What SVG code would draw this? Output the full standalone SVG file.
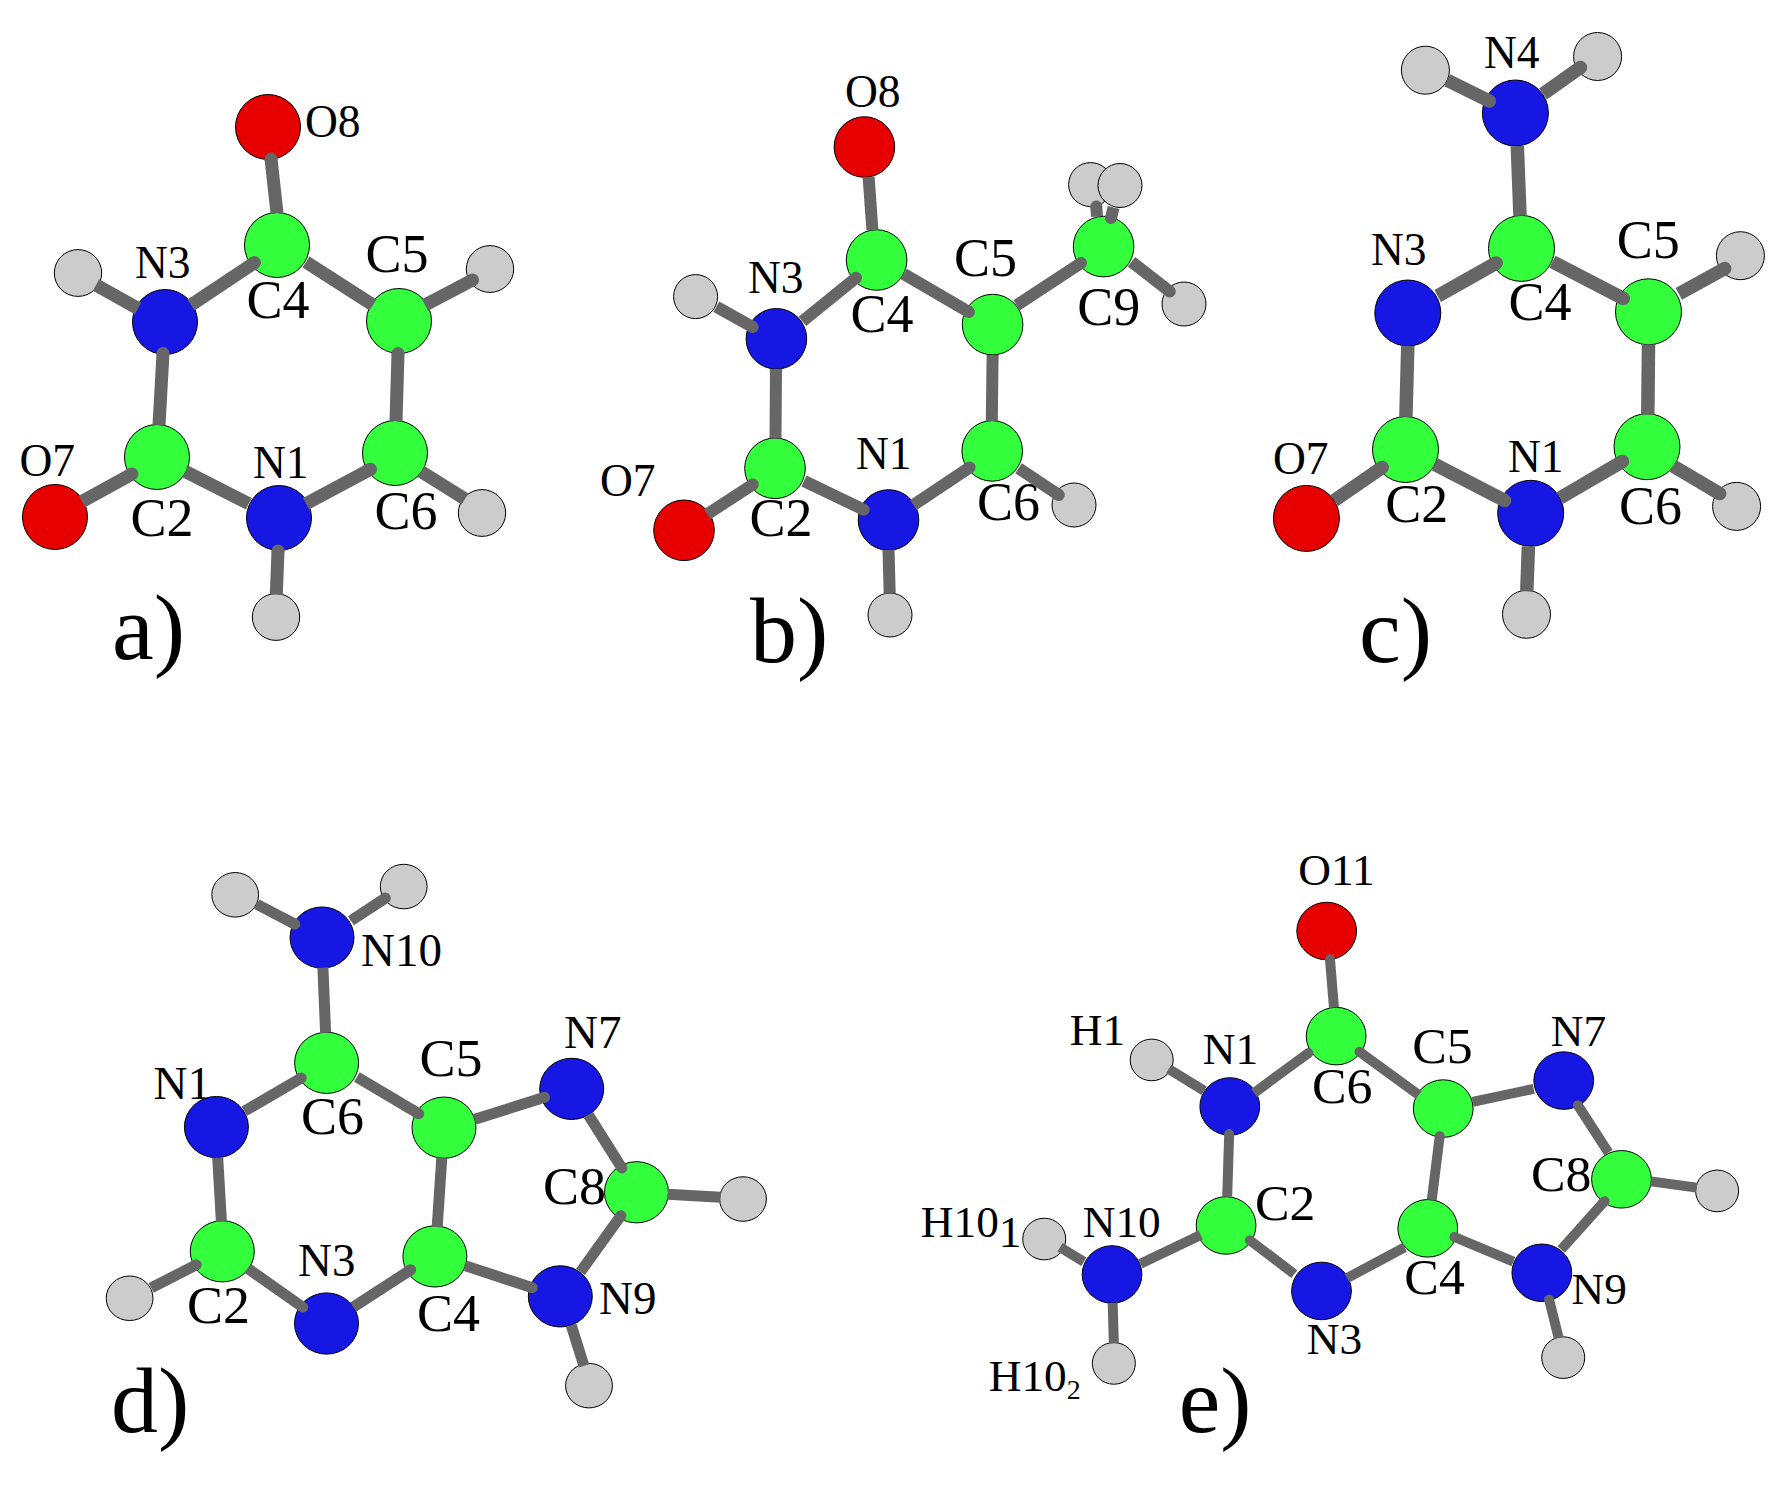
<svg xmlns="http://www.w3.org/2000/svg" width="1787" height="1486" viewBox="0 0 1787 1486">
<style>
text{font-family:"Liberation Serif","Times New Roman",serif;fill:#000}
.s{font-size:45.5px}.m{font-size:47px}.l{font-size:54px;transform:translateX(-1.5px)}.k{font-size:52px;transform:translateX(-1px)}.p{font-size:94px;transform:translate(-3px,-2px)}
ellipse{stroke:#000;stroke-width:1}
.g{fill:#33ff3d}.b{fill:#1717e3}.r{fill:#e60000}.h{fill:#ccc}
#connectors line{stroke:#666;fill:none}
.c{marker-start:url(#cap)}
</style>
<defs><marker id="cap" viewBox="-1 -1 2 2" markerWidth="2" markerHeight="2" orient="auto"><circle r=".5" fill="#666"/></marker></defs>
<rect width="1787" height="1486" fill="#fff"/>

<g id="mol-a">
<g id="a-H1"><ellipse class="h" cx="78" cy="273" rx="23.7" ry="23.4"/></g>
<g id="a-H2"><ellipse class="h" cx="490" cy="269" rx="23.7" ry="23.4"/></g>
<g id="a-H3"><ellipse class="h" cx="482" cy="513" rx="23.7" ry="23.4"/></g>
<g id="a-H4"><ellipse class="h" cx="276" cy="617" rx="23.7" ry="23.4"/></g>
<g id="a-O8"><ellipse class="r" cx="268" cy="127" rx="32.5" ry="32.5"/><text class="s" x="305" y="136.5">O8</text></g>
<g id="a-C4"><ellipse class="g" cx="277" cy="245" rx="32.5" ry="32.5"/><text class="l" x="248" y="317.5">C4</text></g>
<g id="a-C5"><ellipse class="g" cx="399" cy="321" rx="32.5" ry="32.5"/><text class="l" x="367" y="271.5">C5</text></g>
<g id="a-N3"><ellipse class="b" cx="165" cy="322" rx="32.5" ry="32.5"/><text class="s" x="135" y="277.5">N3</text></g>
<g id="a-C2"><ellipse class="g" cx="157" cy="457" rx="32.5" ry="32.5"/><text class="l" x="132" y="536">C2</text></g>
<g id="a-N1"><ellipse class="b" cx="279" cy="518" rx="32.5" ry="32.5"/><text class="s" x="253" y="477.5">N1</text></g>
<g id="a-C6"><ellipse class="g" cx="395" cy="453" rx="32.5" ry="32.5"/><text class="l" x="376" y="529">C6</text></g>
<g id="a-O7"><ellipse class="r" cx="55" cy="517" rx="32.5" ry="32.5"/><text class="s" x="19.5" y="475.5">O7</text></g>
<text id="a-label" class="p" x="115" y="661">a)</text>
</g>

<g id="mol-b">
<g id="b-H1"><ellipse class="h" cx="695.6" cy="296.6" rx="22" ry="22"/></g>
<g id="b-H2"><ellipse class="h" cx="890" cy="615" rx="22" ry="22"/></g>
<g id="b-H3"><ellipse class="h" cx="1074" cy="505" rx="22" ry="22"/></g>
<g id="b-H4"><ellipse class="h" cx="1090.6" cy="184.6" rx="22" ry="22"/></g>
<g id="b-H5"><ellipse class="h" cx="1120" cy="185.5" rx="22" ry="22"/></g>
<g id="b-H6"><ellipse class="h" cx="1184" cy="304" rx="22" ry="22"/></g>
<g id="b-O8"><ellipse class="r" cx="864.4" cy="147" rx="30.3" ry="30.3"/><text class="s" x="845" y="106.5">O8</text></g>
<g id="b-C4"><ellipse class="g" cx="876.6" cy="260" rx="30.3" ry="30.3"/><text class="l" x="852" y="332">C4</text></g>
<g id="b-C5"><ellipse class="g" cx="992.6" cy="324.6" rx="30.3" ry="30.3"/><text class="l" x="955.5" y="276">C5</text></g>
<g id="b-N3"><ellipse class="b" cx="776.4" cy="338.8" rx="30.3" ry="30.3"/><text class="s" x="748" y="293">N3</text></g>
<g id="b-C2"><ellipse class="g" cx="775" cy="468.3" rx="30.3" ry="30.3"/><text class="l" x="751" y="535.5">C2</text></g>
<g id="b-N1"><ellipse class="b" cx="888.5" cy="520" rx="30.3" ry="30.3"/><text class="s" x="856" y="469">N1</text></g>
<g id="b-C6"><ellipse class="g" cx="992.2" cy="450.9" rx="30.3" ry="30.3"/><text class="l" x="978.4" y="519.5">C6</text></g>
<g id="b-O7"><ellipse class="r" cx="684" cy="530.3" rx="30.3" ry="30.3"/><text class="s" x="600" y="496">O7</text></g>
<g id="b-C9"><ellipse class="g" cx="1103.6" cy="246.6" rx="30.3" ry="30.3"/><text class="l" x="1078.7" y="324.5">C9</text></g>
<text id="b-label" class="p" x="753" y="663.5">b)</text>
</g>

<g id="mol-c">
<g id="c-H1"><ellipse class="h" cx="1425.4" cy="70.2" rx="24" ry="24"/></g>
<g id="c-H2"><ellipse class="h" cx="1597.6" cy="56.5" rx="24" ry="24"/></g>
<g id="c-H3"><ellipse class="h" cx="1740.4" cy="255.7" rx="24" ry="24"/></g>
<g id="c-H4"><ellipse class="h" cx="1736.6" cy="506.4" rx="24" ry="24"/></g>
<g id="c-H5"><ellipse class="h" cx="1526.5" cy="614.3" rx="24" ry="24"/></g>
<g id="c-N4"><ellipse class="b" cx="1515.4" cy="113" rx="33" ry="33"/><text class="s" x="1484" y="67.5">N4</text></g>
<g id="c-C4"><ellipse class="g" cx="1521.5" cy="248.4" rx="33" ry="33"/><text class="l" x="1510" y="319.5">C4</text></g>
<g id="c-C5"><ellipse class="g" cx="1648.5" cy="311.8" rx="33" ry="33"/><text class="l" x="1618.3" y="257.5">C5</text></g>
<g id="c-N3"><ellipse class="b" cx="1407.8" cy="313" rx="33" ry="33"/><text class="s" x="1371" y="265">N3</text></g>
<g id="c-C2"><ellipse class="g" cx="1405.5" cy="449.5" rx="33" ry="33"/><text class="l" x="1386.8" y="522">C2</text></g>
<g id="c-N1"><ellipse class="b" cx="1530.7" cy="513.3" rx="33" ry="33"/><text class="s" x="1508" y="471.5">N1</text></g>
<g id="c-C6"><ellipse class="g" cx="1647" cy="446.7" rx="33" ry="33"/><text class="l" x="1620.6" y="523.5">C6</text></g>
<g id="c-O7"><ellipse class="r" cx="1306.4" cy="518.4" rx="33" ry="33"/><text class="s" x="1273" y="474">O7</text></g>
<text id="c-label" class="p" x="1362" y="663.5">c)</text>
</g>

<g id="mol-d" transform="translate(0,5.2) scale(1,.9942)">
<g id="d-H1"><ellipse class="h" cx="235.2" cy="894.8" rx="23.4" ry="22.4"/></g>
<g id="d-H2"><ellipse class="h" cx="403.7" cy="886.5" rx="23.4" ry="22.4"/></g>
<g id="d-H3"><ellipse class="h" cx="743" cy="1200.8" rx="23.4" ry="22.4"/></g>
<g id="d-H4"><ellipse class="h" cx="589" cy="1388.5" rx="23.4" ry="22.4"/></g>
<g id="d-H5"><ellipse class="h" cx="129.6" cy="1300.6" rx="23.4" ry="22.4"/></g>
<g id="d-N10"><ellipse class="b" cx="322" cy="937.8" rx="32" ry="30.8"/><text class="m" x="361" y="966.5">N10</text></g>
<g id="d-C6"><ellipse class="g" cx="326.6" cy="1063.8" rx="32" ry="30.8"/><text class="l" x="302.5" y="1135.5">C6</text></g>
<g id="d-N1"><ellipse class="b" cx="216.4" cy="1128.4" rx="32" ry="30.8"/><text class="m" x="153.5" y="1100">N1</text></g>
<g id="d-C5"><ellipse class="g" cx="444" cy="1129" rx="32" ry="30.8"/><text class="l" x="421" y="1077">C5</text></g>
<g id="d-N7"><ellipse class="b" cx="571.7" cy="1090" rx="32" ry="30.8"/><text class="m" x="564" y="1049">N7</text></g>
<g id="d-C8"><ellipse class="g" cx="636.5" cy="1194" rx="32" ry="30.8"/><text class="l" x="544.5" y="1205.5">C8</text></g>
<g id="d-N9"><ellipse class="b" cx="560.3" cy="1298.7" rx="32" ry="30.8"/><text class="m" x="599" y="1316">N9</text></g>
<g id="d-C4"><ellipse class="g" cx="434.9" cy="1258.5" rx="32" ry="30.8"/><text class="l" x="418.4" y="1334">C4</text></g>
<g id="d-N3"><ellipse class="b" cx="326.5" cy="1326" rx="32" ry="30.8"/><text class="m" x="298" y="1278">N3</text></g>
<g id="d-C2"><ellipse class="g" cx="222.3" cy="1253.4" rx="32" ry="30.8"/><text class="l" x="188.5" y="1325.5">C2</text></g>
<text id="d-label" class="p" x="114" y="1436.7">d)</text>
</g>

<g id="mol-e" transform="translate(3.5,8.2) scale(.996,.9923)">
<g id="e-H1"><ellipse class="h" cx="1152.8" cy="1059.9" rx="21.6" ry="21"/><text class="s" x="1070.5" y="1045">H1</text></g>
<g id="e-H101"><ellipse class="h" cx="1044.9" cy="1240.4" rx="21.6" ry="21"/><text class="s" x="921" y="1238.5">H10<tspan dy="10">1</tspan></text></g>
<g id="e-H102"><ellipse class="h" cx="1114.8" cy="1365.7" rx="21.6" ry="21"/><text class="s" x="989.2" y="1393.5">H10<tspan dy="8" font-size="28">2</tspan></text></g>
<g id="e-H4"><ellipse class="h" cx="1720.5" cy="1191.9" rx="21.6" ry="21"/></g>
<g id="e-H5"><ellipse class="h" cx="1566" cy="1359.9" rx="21.6" ry="21"/></g>
<g id="e-O11"><ellipse class="r" cx="1328.5" cy="930" rx="30" ry="29"/><text class="s" x="1300" y="884">O11</text></g>
<g id="e-C6"><ellipse class="g" cx="1338" cy="1035.9" rx="30" ry="29"/><text class="k" x="1314.8" y="1103.5">C6</text></g>
<g id="e-N1"><ellipse class="b" cx="1231.2" cy="1106.8" rx="30" ry="29"/><text class="s" x="1204" y="1064.5">N1</text></g>
<g id="e-C5"><ellipse class="g" cx="1445.5" cy="1108.9" rx="30" ry="29"/><text class="k" x="1415.3" y="1063">C5</text></g>
<g id="e-N7"><ellipse class="b" cx="1566.5" cy="1080.7" rx="30" ry="29"/><text class="s" x="1553.4" y="1045.5">N7</text></g>
<g id="e-C8"><ellipse class="g" cx="1624.5" cy="1180.2" rx="30" ry="29"/><text class="k" x="1534.7" y="1191.5">C8</text></g>
<g id="e-N9"><ellipse class="b" cx="1544.5" cy="1274.4" rx="30" ry="29"/><text class="s" x="1574.4" y="1305.5">N9</text></g>
<g id="e-C4"><ellipse class="g" cx="1430" cy="1229.6" rx="30" ry="29"/><text class="k" x="1407.5" y="1296">C4</text></g>
<g id="e-N3"><ellipse class="b" cx="1323.3" cy="1292.7" rx="30" ry="29"/><text class="s" x="1308.5" y="1356.6">N3</text></g>
<g id="e-C2"><ellipse class="g" cx="1227.5" cy="1226.7" rx="30" ry="29"/><text class="k" x="1257.5" y="1221.5">C2</text></g>
<g id="e-N10"><ellipse class="b" cx="1113" cy="1276.1" rx="30" ry="29"/><text class="s" x="1083.5" y="1238.5">N10</text></g>
<text id="e-label" class="p" x="1183" y="1436.5">e)</text>
</g>

<g id="connectors">
<g stroke-width="13">
<line class="c" x1="271" y1="159" x2="277" y2="213"/>
<line class="c" x1="254.5" y1="262.6" x2="191" y2="305"/>
<line x1="306" y1="262" x2="373" y2="305"/>
<line x1="96" y1="285" x2="138" y2="308.5"/>
<line class="c" x1="163" y1="353.5" x2="159" y2="425"/>
<line class="c" x1="472.6" y1="280" x2="425" y2="305"/>
<line class="c" x1="398" y1="353.5" x2="396" y2="421"/>
<line x1="185.6" y1="471.6" x2="248.8" y2="503.8"/>
<line class="c" x1="132" y1="474" x2="82" y2="501.5"/>
<line class="c" x1="370.5" y1="469.3" x2="306" y2="503.8"/>
<line x1="421" y1="471.6" x2="465" y2="499"/>
<line class="c" x1="278" y1="551" x2="276.3" y2="594.6"/>
</g>
<g stroke-width="12">
<line x1="868.6" y1="177" x2="872.4" y2="230"/>
<line class="c" x1="856" y1="277.8" x2="802.4" y2="321.4"/>
<line class="c" x1="968.9" y1="312" x2="903.8" y2="274"/>
<line class="c" x1="752.6" y1="327" x2="716.3" y2="306.7"/>
<line x1="776" y1="369" x2="775.5" y2="438.5"/>
<line class="c" x1="752.8" y1="484.4" x2="707.2" y2="514.2"/>
<line class="c" x1="863.6" y1="509.6" x2="804" y2="481"/>
<line class="c" x1="969.6" y1="467.4" x2="913.4" y2="505"/>
<line class="c" x1="1058.8" y1="495" x2="1018.6" y2="468.3"/>
<line x1="992.6" y1="355" x2="991.8" y2="421"/>
<line class="c" x1="1081" y1="263" x2="1016.7" y2="305.3"/>
<line class="c" x1="1096.3" y1="206.6" x2="1097" y2="216.7"/>
<line class="c" x1="1111" y1="218" x2="1113.5" y2="207.5"/>
<line class="c" x1="1169.8" y1="291.6" x2="1131.5" y2="261.7"/>
<line x1="888.5" y1="550" x2="889.7" y2="593.5"/>
</g>
<g stroke-width="13.5">
<line x1="1517.3" y1="146" x2="1520" y2="215.8"/>
<line class="c" x1="1489.3" y1="101" x2="1447.2" y2="80.3"/>
<line class="c" x1="1580.4" y1="67.5" x2="1543" y2="94"/>
<line class="c" x1="1496.2" y1="263" x2="1437.7" y2="296"/>
<line class="c" x1="1623.3" y1="298.4" x2="1552.5" y2="261.7"/>
<line x1="1407.8" y1="345.7" x2="1405.9" y2="416.9"/>
<line class="c" x1="1382.2" y1="467.4" x2="1334.3" y2="500.5"/>
<line class="c" x1="1504.6" y1="500.5" x2="1435" y2="464.6"/>
<line class="c" x1="1622.5" y1="461.4" x2="1560" y2="498"/>
<line x1="1648.5" y1="344.4" x2="1647.8" y2="414.6"/>
<line class="c" x1="1724.7" y1="268.6" x2="1678.8" y2="293.8"/>
<line class="c" x1="1719.7" y1="493.6" x2="1673" y2="466"/>
<line x1="1528.4" y1="546.4" x2="1526.8" y2="591.4"/>
</g>
<g stroke-width="11" transform="translate(0,5.2) scale(1,.9942)">
<line class="c" x1="294.9" y1="924.2" x2="256.8" y2="904.3"/>
<line class="c" x1="385.3" y1="898.1" x2="350.9" y2="920.9"/>
<line x1="322.9" y1="968" x2="325.6" y2="1033.5"/>
<line class="c" x1="301.3" y1="1079" x2="244.4" y2="1112.4"/>
<line class="c" x1="418.8" y1="1115" x2="356.9" y2="1078"/>
<line class="c" x1="544.6" y1="1098.5" x2="474.9" y2="1120.5"/>
<line class="c" x1="621.8" y1="1169.5" x2="588.3" y2="1116"/>
<line x1="441.8" y1="1159.5" x2="437.2" y2="1229"/>
<line x1="217.7" y1="1159" x2="221.4" y2="1223.5"/>
<line class="c" x1="196.2" y1="1267" x2="151.2" y2="1290.2"/>
<line class="c" x1="302.7" y1="1309.5" x2="247.6" y2="1270.5"/>
<line class="c" x1="410.6" y1="1272" x2="353.2" y2="1309.5"/>
<line class="c" x1="532.3" y1="1290" x2="465.7" y2="1268"/>
<line class="c" x1="620.9" y1="1217.5" x2="580.5" y2="1274"/>
<line x1="667.7" y1="1196" x2="720.5" y2="1199"/>
<line x1="571.3" y1="1328" x2="584" y2="1368.5"/>
</g>
<g stroke-width="10" transform="translate(3.5,8.2) scale(.996,.9923)">
<line class="c" x1="1331.8" y1="958.3" x2="1335.8" y2="1007.2"/>
<line class="c" x1="1310.2" y1="1052.9" x2="1255.6" y2="1093.1"/>
<line class="c" x1="1361.4" y1="1051.6" x2="1421" y2="1095.2"/>
<line x1="1205.5" y1="1091" x2="1169.9" y2="1069"/>
<line class="c" x1="1230.6" y1="1134.6" x2="1228.6" y2="1197.7"/>
<line x1="1475" y1="1102.2" x2="1536.4" y2="1089"/>
<line class="c" x1="1580.7" y1="1105.6" x2="1611.4" y2="1153.3"/>
<line x1="1654" y1="1182.3" x2="1700" y2="1188.5"/>
<line class="c" x1="1607.5" y1="1202.2" x2="1564" y2="1251"/>
<line class="c" x1="1442" y1="1136.7" x2="1434" y2="1201"/>
<line class="c" x1="1456.7" y1="1238.3" x2="1516" y2="1263.2"/>
<line x1="1406.7" y1="1248.7" x2="1348.9" y2="1279.8"/>
<line class="c" x1="1251.4" y1="1241.7" x2="1296" y2="1275.7"/>
<line x1="1202" y1="1236.3" x2="1141.5" y2="1265.3"/>
<line x1="1060.8" y1="1248.7" x2="1084.7" y2="1263.2"/>
<line x1="1113.6" y1="1304.7" x2="1114.8" y2="1345.4"/>
<line class="c" x1="1551.8" y1="1301.4" x2="1561.4" y2="1340"/>
</g>
</g>
</svg>
